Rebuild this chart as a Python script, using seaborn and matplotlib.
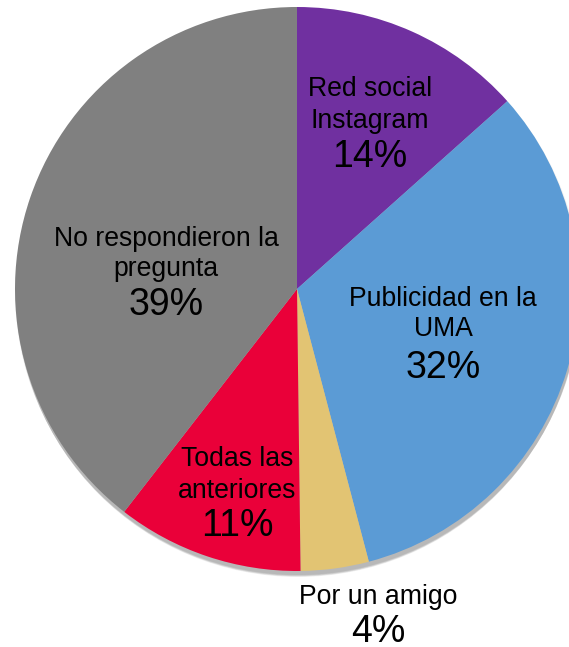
import matplotlib
matplotlib.use("Agg")
import matplotlib.pyplot as plt
import seaborn as sns
from matplotlib.patches import Circle

sns.set_theme(style="white")
plt.rcParams['font.family'] = ['Liberation Sans', 'DejaVu Sans']

categories = ["Red social\nInstagram", "Publicidad en la\nUMA", "Por un amigo",
              "Todas las\nanteriores", "No respondieron la\npregunta"]
values = [13.4, 32.5, 3.9, 10.7, 39.5]
pct_labels = ["14%", "32%", "4%", "11%", "39%"]
colors = ["#7030A0", "#5B9BD5", "#E2C473", "#EA0039", "#808080"]

W, H = 569, 647
fig = plt.figure(figsize=(W / 100, H / 100), dpi=100)
ax = fig.add_axes([0, 0, 1, 1])

cx, cy, r = 297, H - 289, 282

# soft shadow
for i in range(6):
    ax.add_patch(Circle((cx + 1, cy - 3 - i * 0.8), r + 1 - i * 0.4, color="black",
                        alpha=0.05, lw=0, zorder=0))

ax.pie(values, colors=colors, startangle=90, counterclock=False,
       center=(cx, cy), radius=r, wedgeprops=dict(linewidth=0),
       frame=False)

# label positions (pixel coords, top-down): name center, pct center
pos = [(370, 105, 157), (443, 314, 368), (378, 597, 632), (237, 475, 526), (166, 254, 305)]
for name, pct, (x, yn, yp) in zip(categories, pct_labels, pos):
    ax.text(x, H - yn, name, ha="center", va="center", fontsize=19.2,
            color="black", linespacing=1.25, zorder=5)
    ax.text(x, H - yp, pct, ha="center", va="center", fontsize=27,
            color="black", zorder=5)

ax.set_xlim(0, W)
ax.set_ylim(0, H)
ax.set_aspect("equal")
ax.axis("off")
fig.savefig("out.png", dpi=100)
